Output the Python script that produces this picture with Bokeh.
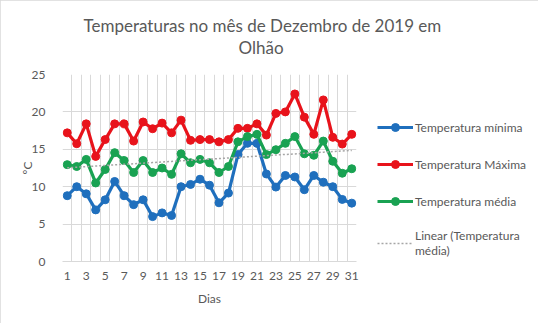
import numpy as np
from bokeh.plotting import figure
from bokeh.models import (ColumnDataSource, FixedTicker, Legend, LegendItem, Title, Range1d)
from bokeh.embed import file_html
from bokeh.resources import INLINE

days = list(range(1, 32))
t_min = [8.8, 10.0, 9.05, 6.9, 8.25, 10.7, 8.8, 7.6, 8.25, 6.0, 6.5, 6.15, 10.0, 10.3, 11.0,
         10.2, 7.85, 9.15, 14.3, 15.8, 15.8, 11.7, 9.95, 11.5, 11.3, 9.6, 11.5, 10.6, 10.0, 8.3, 7.8]
t_max = [17.2, 15.75, 18.4, 14.05, 16.3, 18.4, 18.4, 16.1, 18.65, 17.75, 18.5, 17.2, 18.9, 16.2, 16.3,
         16.3, 16.0, 16.3, 17.8, 17.8, 18.4, 16.9, 19.8, 20.0, 22.4, 19.3, 17.0, 21.6, 16.6, 15.7, 17.0]
t_med = [12.95, 12.7, 13.65, 10.5, 12.3, 14.55, 13.5, 11.9, 13.5, 11.9, 12.5, 11.65, 14.4, 13.2, 13.65,
         13.2, 11.9, 12.7, 16.0, 16.7, 17.0, 14.3, 14.95, 15.8, 16.7, 14.4, 14.2, 16.1, 13.4, 11.8, 12.4]
x_tick_days = list(range(1, 32, 2))
y_ticks = [0, 5, 10, 15, 20, 25]

title_lines = ["Temperaturas no mês de Dezembro de 2019 em", "Olhão"]
series_names = ["Temperatura mínima", "Temperatura Máxima", "Temperatura média"]
trend_name = "Linear (Temperatura\nmédia)"

colors = ["#1f6fbd", "#e8131b", "#19a252"]
text_col = "#595959"
grid_col = "#d9d9d9"
FONT = "Lato"

coef = np.polyfit(days, t_med, 1)
trend = list(np.polyval(coef, days))

src = ColumnDataSource(dict(day=days, tmin=t_min, tmax=t_max, tmed=t_med, trend=trend))

p = figure(width=538, height=323, output_backend="svg", toolbar_location=None,
           x_range=Range1d(0.5, 31.5), y_range=Range1d(0, 25),
           min_border_left=62, min_border_right=182, min_border_top=74, min_border_bottom=62,
           frame_width=294, frame_height=187)
p.outline_line_color = None
p.background_fill_color = "white"
p.border_fill_color = "white"
p.styles = {"outline": "1px solid #d9d9d9", "outline-offset": "-1px"}

# axes
p.xaxis.ticker = FixedTicker(ticks=x_tick_days)
p.yaxis.ticker = FixedTicker(ticks=y_ticks)
for ax in (p.xaxis[0], p.yaxis[0]):
    ax.major_tick_line_color = None
    ax.minor_tick_line_color = None
    ax.major_label_text_color = text_col
    ax.major_label_text_font = FONT
    ax.major_label_text_font_size = "12px"
    ax.axis_label_text_color = text_col
    ax.axis_label_text_font = FONT
    ax.axis_label_text_font_size = "12px"
    ax.axis_label_text_font_style = "normal"
p.xaxis.axis_line_color = grid_col
p.yaxis.axis_line_color = None
p.xaxis.major_label_standoff = 4
p.yaxis.major_label_standoff = 11
p.xaxis.axis_label = "Dias"
p.xaxis.axis_label_standoff = 8
p.yaxis.axis_label = "ºC"
p.yaxis.axis_label_standoff = -6

p.xgrid.ticker = FixedTicker(ticks=[d - 0.5 for d in days] + [days[-1] + 0.5])
p.ygrid.ticker = FixedTicker(ticks=y_ticks)
p.xgrid.grid_line_color = grid_col
p.ygrid.grid_line_color = grid_col

items = []
for col, name, c in zip(["tmin", "tmax", "tmed"], series_names, colors):
    r1 = p.line("day", col, source=src, line_color=c, line_width=3.2)
    r2 = p.scatter("day", col, source=src, size=8, fill_color=c, line_color=c)
    items.append(LegendItem(label=name, renderers=[r1, r2]))

rt = p.line("day", "trend", source=src, line_color="#a6a6a6", line_width=1.5, line_dash="2 2")
items.append(LegendItem(label=trend_name, renderers=[rt]))

legend = Legend(items=items, location=(21, 3), orientation="vertical",
                glyph_width=36, glyph_height=20, label_height=20, label_standoff=2,
                spacing=17, padding=0, margin=0,
                label_text_font=FONT, label_text_font_size="12px", label_text_color=text_col,
                border_line_color=None, background_fill_alpha=0)
p.add_layout(legend, "right")

# title: second line first (closest to the frame), then first line above it
p.add_layout(Title(text=title_lines[1], align="left", offset=176, standoff=34,
                   text_font=FONT, text_font_size="17px", text_font_style="normal",
                   text_color=text_col), "above")
p.add_layout(Title(text=title_lines[0], align="left", offset=21, standoff=-36,
                   text_font=FONT, text_font_size="17px", text_font_style="normal",
                   text_color=text_col), "above")

open("out.html", "w").write(file_html(p, INLINE))
